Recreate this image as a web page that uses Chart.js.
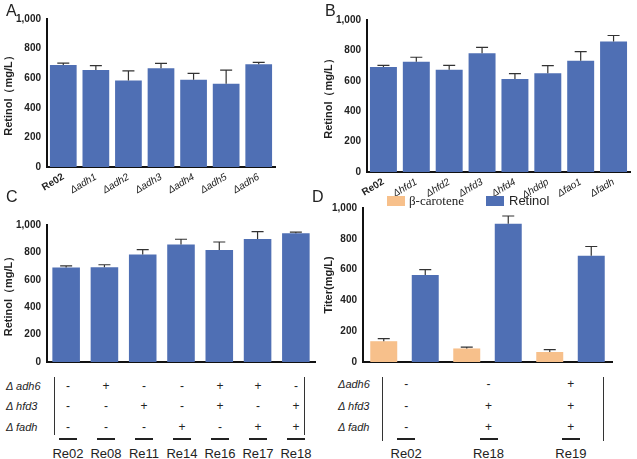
<!DOCTYPE html>
<html><head><meta charset="utf-8">
<script src="https://cdn.jsdelivr.net/npm/chart.js@4/dist/chart.umd.min.js"></script>
<style>
body{margin:0;background:#fff;font-family:Arial,"Liberation Sans",sans-serif;}
#wrap{position:relative;width:637px;height:459px;overflow:hidden}
canvas{position:absolute}
.t{position:absolute;font-size:13px;color:#222;white-space:nowrap}
.p{position:absolute;font-size:16px;color:#222}
.g{position:absolute;font-size:11px;font-style:italic;color:#222}
.v{position:absolute;width:1px;background:#333}
.u{position:absolute;height:2px;width:18px;background:#222}
.c{position:absolute;font-size:12px;color:#222;transform:translateX(-50%)}
</style></head><body><div id="wrap">
<canvas id="cA" style="left:0;top:0"></canvas>
<canvas id="cB" style="left:320px;top:0"></canvas>
<canvas id="cC" style="left:0;top:200px"></canvas>
<canvas id="cD" style="left:320px;top:200px"></canvas>
<div class="p" style="left:6px;top:2px">A</div>
<div class="p" style="left:325px;top:2px">B</div>
<div class="p" style="left:6px;top:188px">C</div>
<div class="p" style="left:312px;top:188px">D</div>
<div id="extra"></div>
</div>
<script>
// ==================== DATA ====================
const labelsA = ['Re02', 'Δadh1', 'Δadh2', 'Δadh3', 'Δadh4', 'Δadh5', 'Δadh6'];
const valuesA = [690, 655, 585, 668, 590, 562, 695];
const errorsA = [12, 30, 65, 32, 43, 92, 12];

const labelsB = ['Re02', 'Δhfd1', 'Δhfd2', 'Δhfd3', 'Δhfd4', 'Δhddp', 'Δfao1', 'Δfadh'];
const valuesB = [690, 725, 672, 782, 612, 650, 732, 858];
const errorsB = [12, 30, 30, 38, 35, 50, 60, 40];

const labelsC = ['Re02', 'Re08', 'Re11', 'Re14', 'Re16', 'Re17', 'Re18'];
const valuesC = [690, 692, 785, 858, 818, 897, 940];
const errorsC = [12, 18, 35, 38, 58, 55, 8];
const adh6C = ['-', '+', '-', '-', '+', '+', '-'];
const hfd3C = ['-', '-', '+', '-', '+', '-', '+'];
const fadhC = ['-', '-', '-', '+', '-', '+', '+'];

const labelsD = ['Re02', 'Re18', 'Re19'];
const caroteneD = [135, 88, 65];
const caroteneErrD = [17, 8, 15];
const retinolD = [565, 898, 690];
const retinolErrD = [35, 50, 60];
const adh6D = ['-', '-', '+'];
const hfd3D = ['-', '+', '+'];
const fadhD = ['-', '+', '+'];

const yTicks = [0, 200, 400, 600, 800, 1000];
const blue = '#4f6fb4', orange = '#f7c08b';

// ==================== ERROR BARS ====================
const errorBars = {
    id: 'errorBars',
    afterDatasetsDraw(chart) {
        const ctx = chart.ctx, y = chart.scales.y;
        chart.data.datasets.forEach((ds, di) => {
            if (!ds.errs) return;
            chart.getDatasetMeta(di).data.forEach((bar, i) => {
                const top = y.getPixelForValue(ds.data[i] + ds.errs[i]);
                ctx.save();
                ctx.strokeStyle = '#333'; ctx.lineWidth = 1.2;
                ctx.beginPath();
                ctx.moveTo(bar.x, bar.y); ctx.lineTo(bar.x, top);
                ctx.moveTo(bar.x - 6, top); ctx.lineTo(bar.x + 6, top);
                ctx.stroke(); ctx.restore();
            });
        });
    }
};

function makeChart(id, w, h, labels, datasets, pad, yWidth, xHeight, opts) {
    const cv = document.getElementById(id);
    cv.width = w; cv.height = h; cv.style.width = w + 'px'; cv.style.height = h + 'px';
    return new Chart(cv, {
        type: 'bar',
        data: { labels, datasets },
        plugins: [errorBars],
        options: {
            responsive: false, animation: false,
            layout: { padding: pad },
            plugins: { legend: { display: false }, tooltip: { enabled: false } },
            scales: {
                x: {
                    grid: { display: false, drawTicks: false },
                    border: { color: '#111', width: 2 },
                    ticks: { display: opts.xTicks, color: '#222', padding: 4, font: opts.xFont },
                    afterFit(s) { s.height = xHeight; }
                },
                y: {
                    min: 0, max: 1000,
                    afterBuildTicks(s) { s.ticks = yTicks.map(v => ({ value: v })); },
                    grid: { display: false, tickLength: 4, tickColor: '#111', tickWidth: 2 },
                    border: { color: '#111', width: 2 },
                    ticks: { color: '#222', font: { size: 10, weight: 'bold' }, padding: 2 },
                    title: { display: true, text: opts.yTitle, color: '#222', font: { size: 11, weight: 'bold' }, padding: 2 },
                    afterFit(s) { s.width = yWidth; }
                }
            }
        }
    });
}

const deltaFont = ctx => ctx.index === 0 ? { size: 10, weight: 'bold' } : { size: 10, style: 'italic' };

makeChart('cA', 320, 200, labelsA,
    [{ data: valuesA, errs: errorsA, backgroundColor: blue, barPercentage: 0.82, categoryPercentage: 1 }],
    { top: 19, right: 45, left: 0 }, 47, 33, { xTicks: true, xFont: deltaFont, yTitle: 'Retinol（mg/L）' });

makeChart('cB', 317, 200, labelsB,
    [{ data: valuesB, errs: errorsB, backgroundColor: blue, barPercentage: 0.82, categoryPercentage: 1 }],
    { top: 20, right: 7, left: 0 }, 47, 28, { xTicks: true, xFont: deltaFont, yTitle: 'Retinol（mg/L）' });

makeChart('cC', 320, 170, labelsC,
    [{ data: valuesC, errs: errorsC, backgroundColor: blue, barPercentage: 0.72, categoryPercentage: 1 }],
    { top: 25, right: 5, left: 0 }, 47, 4, { xTicks: false, yTitle: 'Retinol（mg/L）' });

makeChart('cD', 317, 170, labelsD,
    [{ data: caroteneD, errs: caroteneErrD, backgroundColor: orange, barPercentage: 0.65, categoryPercentage: 1 },
     { data: retinolD, errs: retinolErrD, backgroundColor: blue, barPercentage: 0.65, categoryPercentage: 1 }],
    { top: 8, right: 25, left: 0 }, 43, 6, { xTicks: false, yTitle: 'Titer(mg/L)' });

// ==================== TABLES & LEGEND ====================
const extra = document.getElementById('extra');
function add(html) { extra.insertAdjacentHTML('beforeend', html); }

function table(x0, x1, rowY, names, rows, labels, barL, barR, nameX, sep) {
    const step = (barR - barL) / labels.length;
    names.forEach((n, r) => add(`<div class="g" style="left:${nameX}px;top:${rowY[r] - 7}px">${n}</div>`));
    rows.forEach((row, r) => row.forEach((s, i) =>
        add(`<div class="c" style="left:${barL + step * (i + 0.5)}px;top:${rowY[r] - 8}px">${s}</div>`)));
    labels.forEach((l, i) => {
        const cx = barL + step * (i + 0.5);
        add(`<div class="u" style="left:${cx - 9}px;top:438px"></div>`);
        add(`<div class="c" style="left:${cx}px;top:446px;font-size:13px">${l}</div>`);
    });
    add(`<div class="v" style="left:${x0}px;top:377px;height:${sep}px"></div>`);
    add(`<div class="v" style="left:${x1}px;top:377px;height:${sep}px"></div>`);
}

table(54, 304, [387, 407, 428], ['Δ adh6', 'Δ hfd3', 'Δ fadh'], [adh6C, hfd3C, fadhC], labelsC, 49, 315, 6, 58);
table(382, 603, [385, 407, 428], ['Δadh6', 'Δ hfd3', 'Δ fadh'], [adh6D, hfd3D, fadhD], labelsD, 365, 612, 338, 64);

add(`<div style="position:absolute;left:387px;top:196px;width:18px;height:10px;background:${orange}"></div>`);
add(`<div class="t" style="left:409px;top:193px;font-family:'Liberation Serif',serif">β-carotene</div>`);
add(`<div style="position:absolute;left:486px;top:196px;width:18px;height:10px;background:${blue}"></div>`);
add(`<div class="t" style="left:509px;top:193px">Retinol</div>`);
</script></body></html>
